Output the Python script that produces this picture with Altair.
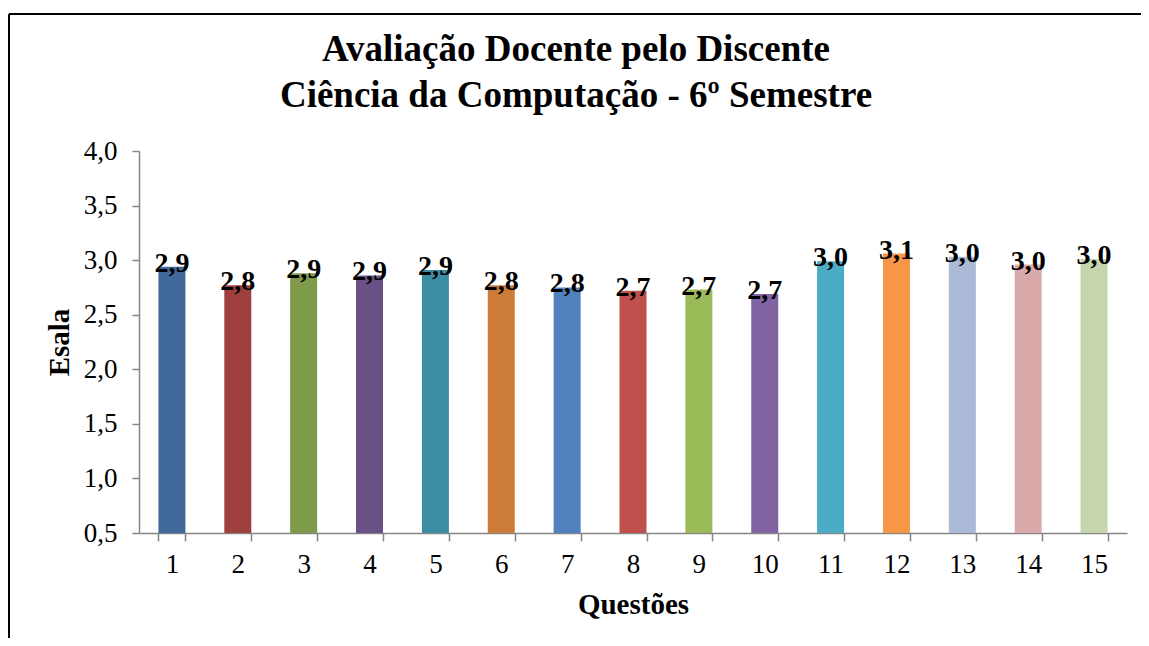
import altair as alt
import pandas as pd

questions = [str(i) for i in range(1, 16)]
values = [2.94, 2.77, 2.88, 2.86, 2.91, 2.77, 2.75, 2.72, 2.73, 2.69, 2.99, 3.06, 3.03, 2.96, 3.01]
colors = ["#416A9B", "#9E413E", "#7F9A48", "#695185", "#3C8DA3", "#CC7B38", "#4F81BD",
          "#C0504D", "#9BBB59", "#8064A2", "#4BACC6", "#F79646", "#AABAD7", "#D9AAA9", "#C6D6AC"]
y_ticks = [0.5, 1.0, 1.5, 2.0, 2.5, 3.0, 3.5, 4.0]

df = pd.DataFrame({"q": questions, "v": values})

FONT = "Liberation Serif"
AX = "#868686"

x = alt.X("q:N", sort=None,
          scale=alt.Scale(paddingInner=0.59, paddingOuter=0.295),
          axis=alt.Axis(title="Questões", labelAngle=0, tickBand="extent",
                        labelFont=FONT, labelFontSize=27, labelColor="black",
                        labelBaseline="alphabetic", labelPadding=31,
                        tickSize=8, tickColor=AX, domainColor=AX, tickWidth=1.5, domainWidth=1.5,
                        titleFont=FONT, titleFontSize=29, titleFontWeight="bold",
                        titleColor="black", titleBaseline="alphabetic", titleY=80))
y = alt.Y("v:Q",
          scale=alt.Scale(domain=[0.5, 4.0], zero=False, nice=False),
          axis=alt.Axis(title="Esala", values=y_ticks, format=".1f",
                        labelExpr="replace(datum.label, '.', ',')",
                        grid=False, labelFont=FONT, labelFontSize=27, labelColor="black",
                        labelPadding=15, tickSize=7, tickColor=AX, domainColor=AX,
                        tickWidth=1.5, domainWidth=1.5,
                        titleFont=FONT, titleFontSize=29, titleFontWeight="bold",
                        titleColor="black", titleX=-80, titleBaseline="middle"))

bars = alt.Chart(df).mark_bar().encode(
    x=x, y=y, y2=alt.datum(0.5),
    color=alt.Color("q:N", sort=None, scale=alt.Scale(domain=questions, range=colors), legend=None),
)

labels = alt.Chart(df).transform_calculate(
    lab="replace(format(datum.v, '.1f'), '.', ',')"
).mark_text(font=FONT, fontSize=28, fontWeight="bold", baseline="alphabetic", dy=5, color="black").encode(
    x=alt.X("q:N", sort=None), y=alt.Y("v:Q"), text="lab:N"
)

frame_df = pd.DataFrame({"k": [0]})
top_line = alt.Chart(frame_df).mark_rule(color="black", strokeWidth=2).encode(
    x=alt.value(-130), x2=alt.value(1002), y=alt.value(-137))
left_line = alt.Chart(frame_df).mark_rule(color="black", strokeWidth=2).encode(
    x=alt.value(-130), y=alt.value(-137), y2=alt.value(487))

chart = alt.layer(bars, labels, top_line, left_line).properties(
    width=988, height=382,
    autosize=alt.AutoSizeParams(type="none"),
    padding={"left": 131, "top": 143, "right": 14, "bottom": 105},
    title=alt.TitleParams(
        text=["Avaliação Docente pelo Discente", "Ciência da Computação - 6º Semestre"],
        font=FONT, fontSize=37, fontWeight="bold", color="black", frame="group",
        anchor="middle", dx=-57, offset=-102, lineHeight=46),
).configure_view(stroke=None)

chart.save("out.html", embed_options={"renderer": "svg", "actions": False})
